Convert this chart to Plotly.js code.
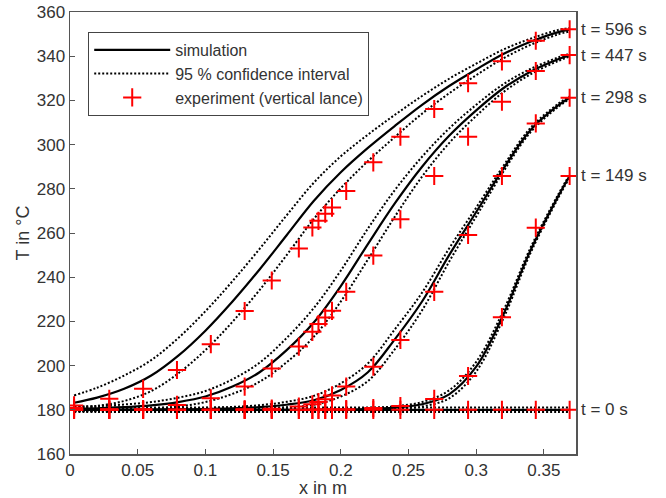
<!DOCTYPE html>
<html>
<head>
<meta charset="utf-8">
<script src="https://cdn.plot.ly/plotly-3.0.1.min.js"></script>
<style>html,body{margin:0;padding:0;background:#fff;}#chart{width:666px;height:498px;}</style>
</head>
<body>
<div id="chart"></div>
<script>
// Simulation x grid (m)
var simX = [0.003, 0.02, 0.04, 0.06, 0.08, 0.10, 0.12, 0.14, 0.16, 0.18, 0.20, 0.22, 0.24, 0.26, 0.28, 0.30, 0.32, 0.34, 0.36, 0.369];

// Simulation (solid) and 95 % confidence bounds (dotted), °C
var sim0   = [180, 180, 180, 180, 180, 180, 180, 180, 180, 180, 180, 180, 180, 180, 180, 180, 180, 180, 180, 180];
var up0    = [181, 181, 181, 181, 181, 181, 181, 181, 181, 181, 181, 181, 181, 181, 181, 181, 181, 181, 181, 181];
var lo0    = [179, 179, 179, 179, 179, 179, 179, 179, 179, 179, 179, 179, 179, 179, 179, 179, 179, 179, 179, 179];

var sim149 = [180, 180, 180, 180, 180, 180, 180, 180, 180, 180, 180.1, 180.3, 181, 182.5, 187, 199.5, 223, 252, 276, 285.8];
var up149  = [180.5, 180.5, 180.5, 180.5, 180.5, 180.5, 180.5, 180.5, 180.5, 180.5, 180.6, 180.8, 181.6, 183.5, 188.8, 201.7, 224.8, 253.2, 276.8, 286.4];
var lo149  = [179.5, 179.5, 179.5, 179.5, 179.5, 179.5, 179.5, 179.5, 179.5, 179.5, 179.6, 179.8, 180.4, 181.5, 185.2, 197.3, 221.2, 250.8, 275.2, 285.2];

var sim298 = [180, 180, 180, 180.1, 180.2, 180.3, 180.6, 181.2, 182.3, 184.3, 189, 197, 212, 229, 250, 269.5, 289, 306.5, 317.5, 321.2];
var up298  = [180.5, 180.5, 180.5, 180.6, 180.7, 180.9, 181.3, 182.1, 183.6, 186.3, 192, 201, 216.5, 233, 253, 271.5, 290.3, 307.5, 318.2, 321.8];
var lo298  = [179.5, 179.5, 179.5, 179.6, 179.7, 179.8, 180, 180.4, 181.1, 182.3, 186, 193, 207.5, 225, 247, 267.5, 287.7, 305.5, 316.8, 320.6];

var sim447 = [180.5, 180.7, 181.2, 182, 183.5, 186, 190.5, 197, 207, 219.5, 236, 255, 273.5, 290, 304, 315.5, 325.5, 333, 338.5, 340.5];
var up447  = [181.5, 181.7, 182.4, 183.5, 185.5, 188.5, 193.8, 201.3, 212.5, 226, 243, 262, 279.5, 294.5, 307.3, 318, 327.3, 334.2, 339.3, 341.1];
var lo447  = [179.5, 179.7, 180, 180.5, 181.5, 183.5, 187.2, 192.7, 201.5, 213, 229, 248, 267.5, 285.5, 300.7, 313, 323.7, 331.8, 337.7, 339.9];

var sim596 = [183.2, 185.5, 189.5, 195.5, 204.5, 215.8, 229, 243.5, 259, 274.5, 287.5, 298.5, 308.5, 318, 326.5, 334, 341, 346.5, 350.8, 352];
var up596  = [186.5, 190, 195.5, 202.5, 212.5, 224.6, 238.2, 252.8, 268, 282.7, 294.7, 304.5, 313.5, 322, 329.8, 336.6, 343, 347.9, 351.8, 352.8];
var lo596  = [181.2, 181.8, 184, 188.5, 196.5, 207, 219.8, 234.2, 250, 266.3, 280.3, 292.5, 303.5, 314, 323.2, 331.4, 339, 345.1, 349.8, 351.2];

// Experiment (vertical lance) positions (m) and temperatures (°C)
var expX   = [0.003, 0.029, 0.054, 0.079, 0.104, 0.129, 0.149, 0.169, 0.179, 0.1835, 0.1885, 0.1935, 0.204, 0.224, 0.244, 0.269, 0.294, 0.319, 0.344, 0.369];
var exp0   = [180, 180, 180, 180, 180, 180, 180, 180, 180, 180, 180, 180, 180, 180, 180, 180, 180, 180, 180, 180];
var exp149 = [180, 180, 180, 180, 180, 180, 180, 180, 180, 180, 180, 180.2, 180.3, 180.8, 181.7, 184.9, 195.3, 221.9, 262.4, 285.8];
var exp298 = [180, 180, 180, 180, 180, 180.2, 180.5, 181.5, 182.5, 183.5, 184.8, 186.5, 190.5, 199.5, 211.6, 233.4, 259.1, 285.8, 309.6, 321.2];
var exp447 = [180.8, 180.3, 180.3, 182.2, 185.2, 190.5, 198.7, 208.6, 215.3, 218.8, 221.8, 224.8, 233.4, 249.8, 266.2, 285.8, 303.6, 319.4, 333.3, 340.5];
var exp596 = [182, 185, 189.5, 198, 209.7, 224.7, 238.5, 253, 262.5, 265.5, 268.7, 271.5, 279, 292, 303.6, 316.1, 327.8, 337.7, 347, 352.2];

var timeLabels = ['t = 0 s', 't = 149 s', 't = 298 s', 't = 447 s', 't = 596 s'];
var legendNames = ['simulation', '95 % confidence interval', 'experiment (vertical lance)'];

var sims = [sim0, sim149, sim298, sim447, sim596];
var ups  = [up0, up149, up298, up447, up596];
var los  = [lo0, lo149, lo298, lo447, lo596];
var exps = [exp0, exp149, exp298, exp447, exp596];

var FONT = 'Liberation Sans, Arial, Helvetica, sans-serif';
var traces = [];
for (var i = 0; i < sims.length; i++) {
  traces.push({x: simX, y: sims[i], mode: 'lines', type: 'scatter', name: legendNames[0],
    legendgroup: 'sim', showlegend: i === 0, line: {color: '#000', width: 2.2, shape: 'spline'}, hoverinfo: 'skip'});
}
for (var i = 0; i < sims.length; i++) {
  traces.push({x: simX, y: ups[i], mode: 'lines', type: 'scatter', name: legendNames[1],
    legendgroup: 'ci', showlegend: i === 0, line: {color: '#000', width: 2, dash: '2px,2px', shape: 'spline'}, hoverinfo: 'skip'});
  traces.push({x: simX, y: los[i], mode: 'lines', type: 'scatter', name: legendNames[1],
    legendgroup: 'ci', showlegend: false, line: {color: '#000', width: 2, dash: '2px,2px', shape: 'spline'}, hoverinfo: 'skip'});
}
for (var i = 0; i < exps.length; i++) {
  traces.push({x: expX, y: exps[i], mode: 'markers', type: 'scatter', name: legendNames[2],
    legendgroup: 'exp', showlegend: i === 0,
    marker: {symbol: 'cross-thin', size: 13, color: '#ff0000', line: {color: '#ff0000', width: 2}}, hoverinfo: 'skip'});
}

var annotations = [];
for (var i = 0; i < sims.length; i++) {
  annotations.push({xref: 'paper', yref: 'y', x: 1, y: sims[i][sims[i].length - 1],
    xanchor: 'left', yanchor: 'middle', xshift: 3, showarrow: false, text: timeLabels[i],
    font: {family: FONT, size: 17, color: '#333'}});
}

var layout = {
  width: 666, height: 498,
  margin: {l: 70, r: 90, t: 12, b: 44, pad: 0},
  paper_bgcolor: '#fff', plot_bgcolor: '#fff',
  font: {family: FONT, size: 17, color: '#333'},
  showlegend: true,
  legend: {x: 0.036, y: 0.955, xanchor: 'left', yanchor: 'top', bgcolor: '#fff',
    bordercolor: '#444', borderwidth: 1, font: {family: FONT, size: 16, color: '#333'}, itemwidth: 76,
    tracegroupgap: 0, traceorder: 'normal'},
  xaxis: {range: [0, 0.3737], dtick: 0.05, tick0: 0, ticks: 'inside', ticklen: 5, tickcolor: '#555',
    showline: true, linecolor: '#555', linewidth: 1.5, mirror: true, showgrid: false, zeroline: false,
    tickfont: {size: 17, color: '#333'},
    title: {text: 'x in m', standoff: 4, font: {size: 18, color: '#333'}}},
  yaxis: {range: [160, 360], dtick: 20, tick0: 160, ticks: 'inside', ticklen: 5, tickcolor: '#555',
    showline: true, linecolor: '#555', linewidth: 1.5, mirror: true, showgrid: false, zeroline: false,
    tickfont: {size: 17, color: '#333'},
    title: {text: 'T in °C', standoff: 2, font: {size: 18, color: '#333'}}},
  annotations: annotations
};

Plotly.newPlot('chart', traces, layout, {staticPlot: true, displayModeBar: false});
</script>
</body>
</html>
